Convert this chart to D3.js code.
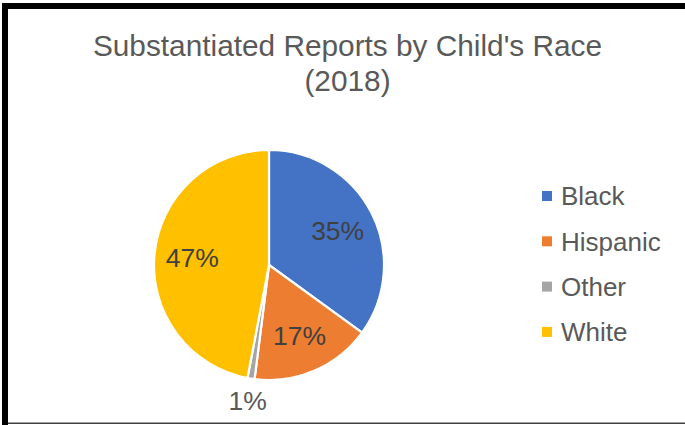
<!DOCTYPE html>
<html>
<head>
<meta charset="utf-8">
<script src="https://cdn.jsdelivr.net/npm/d3@7"></script>
<style>
  html, body { margin: 0; padding: 0; background: #ffffff; }
  svg { display: block; }
  text { font-family: "Liberation Sans", Arial, sans-serif; }
</style>
</head>
<body>
<svg id="chart" width="685" height="425"></svg>
<script>
// Substantiated reports by child's race, 2018 (percent of total)
const categories = ["Black", "Hispanic", "Other", "White"];
const values = [35, 17, 1, 47];
const colors = ["#4472C4", "#ED7D31", "#A5A5A5", "#FFC000"];
const titleLines = ["Substantiated Reports by Child's Race", "(2018)"];

const W = 685, H = 425;
const svg = d3.select("#chart");

// White chart area with a heavy frame on the left and top, hairline at the bottom
svg.append("rect").attr("x", 0).attr("y", 0).attr("width", W).attr("height", H).attr("fill", "#ffffff");
svg.append("rect").attr("x", 2).attr("y", 3).attr("width", 6).attr("height", H - 3).attr("fill", "#000000");
svg.append("rect").attr("x", 2).attr("y", 3).attr("width", W - 2).attr("height", 6).attr("fill", "#000000");
svg.append("rect").attr("x", 8).attr("y", 422.5).attr("width", W - 8).attr("height", 1.5).attr("fill", "#404040");

// Title
const title = svg.append("text")
  .attr("x", 347.5)
  .attr("text-anchor", "middle")
  .attr("fill", "#595959")
  .style("font-size", "29.8px");
titleLines.forEach((line, i) => {
  title.append("tspan").attr("x", 347.5).attr("y", 56 + i * 35).text(line);
});

// Pie
const cx = 269, cy = 265, r = 115;
const pie = d3.pie().sort(null).value(d => d.value);
const data = pie(categories.map((c, i) => ({ name: c, value: values[i], color: colors[i] })));
const arc = d3.arc().innerRadius(0).outerRadius(r);
const inLabel = d3.arc().innerRadius(r * 0.67).outerRadius(r * 0.67);
const outLabel = d3.arc().innerRadius(r + 22).outerRadius(r + 22);
const total = d3.sum(values);

const g = svg.append("g").attr("transform", `translate(${cx},${cy})`);
g.selectAll("path.slice")
  .data(data)
  .join("path")
  .attr("class", "slice")
  .attr("d", arc)
  .attr("fill", d => d.data.color)
  .attr("stroke", "#ffffff")
  .attr("stroke-width", 2.2)
  .attr("stroke-linejoin", "round");

// Percentage labels: inside for large slices, outside for tiny ones
g.selectAll("text.pct")
  .data(data)
  .join("text")
  .attr("class", "pct")
  .attr("text-anchor", "middle")
  .attr("dy", "0.36em")
  .attr("fill", d => d.data.value / total < 0.05 ? "#595959" : "#404040")
  .style("font-size", "26.5px")
  .attr("transform", d => {
    const p = (d.data.value / total < 0.05 ? outLabel : inLabel).centroid(d);
    return `translate(${p[0]},${p[1]})`;
  })
  .text(d => Math.round(d.data.value / total * 100) + "%");

// Legend
const legend = svg.append("g").attr("transform", "translate(542,196)");
const item = legend.selectAll("g.item")
  .data(categories)
  .join("g")
  .attr("class", "item")
  .attr("transform", (d, i) => `translate(0,${i * 45.3})`);
item.append("rect")
  .attr("x", 0).attr("y", -5)
  .attr("width", 10).attr("height", 10)
  .attr("fill", (d, i) => colors[i]);
item.append("text")
  .attr("x", 19)
  .attr("dy", "0.36em")
  .attr("fill", "#595959")
  .style("font-size", "26px")
  .text(d => d);
</script>
</body>
</html>
